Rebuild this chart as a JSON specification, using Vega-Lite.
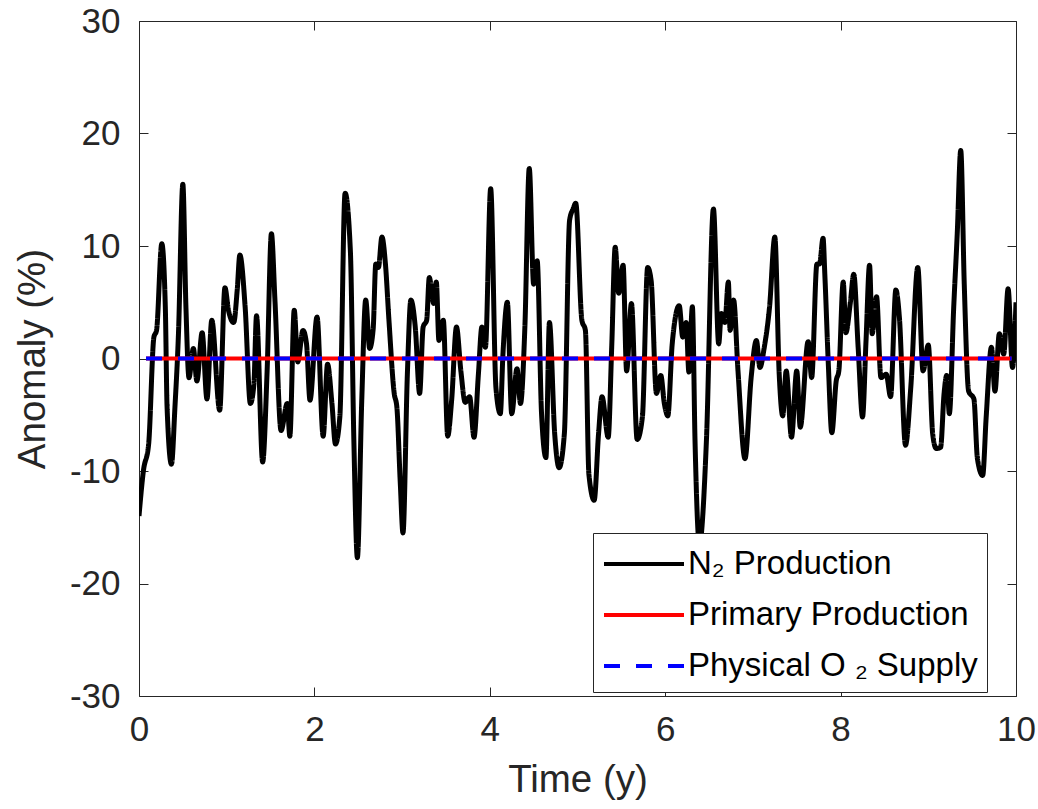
{
  "$schema": "https://vega.github.io/schema/vega-lite/v6.json",
  "width": 877,
  "height": 675,
  "autosize": {"type": "none"},
  "padding": {"left": 139, "top": 21, "right": 22, "bottom": 113},
  "background": "white",
  "config": {
    "font": "Liberation Sans",
    "view": {"stroke": "#262626", "strokeWidth": 1},
    "axis": {
      "domain": false, "grid": false,
      "tickColor": "#262626", "tickSize": -9, "tickWidth": 1,
      "labelColor": "#262626", "labelFont": "Liberation Sans", "labelFontSize": 35,
      "labelPadding": 28,
      "titleFont": "Liberation Sans", "titleFontSize": 38.5, "titleFontWeight": "normal", "titleColor": "#262626"
    },
    "legend": {
      "orient": "none", "legendX": 454, "legendY": 512, "title": null,
      "symbolType": "M-1,0H3", "symbolSize": 1600, "symbolStrokeWidth": 4,
      "labelFontSize": 33, "labelFont": "Liberation Sans", "labelColor": "#000000", "labelOffset": 42,
      "rowPadding": 12, "padding": 9, "strokeColor": "#262626", "fillColor": "white", "labelLimit": 500
    }
  },
  "datasets": {
    "n2": [
      {"t":0.0,"v":-14.0,"s":"N₂ Production"},{"t":0.05,"v":-10.0,"s":"N₂ Production"},{"t":0.11,"v":-7.6,"s":"N₂ Production"},{"t":0.17,"v":1.9,"s":"N₂ Production"},{"t":0.2,"v":2.5,"s":"N₂ Production"},{"t":0.26,"v":10.2,"s":"N₂ Production"},{"t":0.3,"v":4.6,"s":"N₂ Production"},{"t":0.32,"v":-4.3,"s":"N₂ Production"},{"t":0.37,"v":-9.4,"s":"N₂ Production"},{"t":0.41,"v":-4.3,"s":"N₂ Production"},{"t":0.45,"v":2.2,"s":"N₂ Production"},{"t":0.5,"v":15.5,"s":"N₂ Production"},{"t":0.535,"v":4.6,"s":"N₂ Production"},{"t":0.57,"v":-1.7,"s":"N₂ Production"},{"t":0.62,"v":0.9,"s":"N₂ Production"},{"t":0.66,"v":-2.0,"s":"N₂ Production"},{"t":0.72,"v":2.3,"s":"N₂ Production"},{"t":0.775,"v":-3.6,"s":"N₂ Production"},{"t":0.83,"v":3.4,"s":"N₂ Production"},{"t":0.92,"v":-4.6,"s":"N₂ Production"},{"t":0.98,"v":6.3,"s":"N₂ Production"},{"t":1.02,"v":4.3,"s":"N₂ Production"},{"t":1.08,"v":3.2,"s":"N₂ Production"},{"t":1.12,"v":6.1,"s":"N₂ Production"},{"t":1.15,"v":9.2,"s":"N₂ Production"},{"t":1.21,"v":4.6,"s":"N₂ Production"},{"t":1.27,"v":-4.0,"s":"N₂ Production"},{"t":1.31,"v":-2.3,"s":"N₂ Production"},{"t":1.34,"v":3.8,"s":"N₂ Production"},{"t":1.41,"v":-9.2,"s":"N₂ Production"},{"t":1.46,"v":-1.3,"s":"N₂ Production"},{"t":1.51,"v":11.1,"s":"N₂ Production"},{"t":1.55,"v":5.2,"s":"N₂ Production"},{"t":1.62,"v":-6.4,"s":"N₂ Production"},{"t":1.69,"v":-4.0,"s":"N₂ Production"},{"t":1.72,"v":-6.9,"s":"N₂ Production"},{"t":1.77,"v":4.3,"s":"N₂ Production"},{"t":1.81,"v":-0.3,"s":"N₂ Production"},{"t":1.87,"v":2.5,"s":"N₂ Production"},{"t":1.91,"v":1.3,"s":"N₂ Production"},{"t":1.95,"v":-3.7,"s":"N₂ Production"},
      {"t":2.03,"v":3.7,"s":"N₂ Production"},{"t":2.1,"v":-6.9,"s":"N₂ Production"},{"t":2.15,"v":-0.5,"s":"N₂ Production"},{"t":2.2,"v":-4.0,"s":"N₂ Production"},{"t":2.24,"v":-7.6,"s":"N₂ Production"},{"t":2.29,"v":-5.2,"s":"N₂ Production"},{"t":2.35,"v":14.7,"s":"N₂ Production"},{"t":2.41,"v":9.6,"s":"N₂ Production"},{"t":2.45,"v":-7.3,"s":"N₂ Production"},{"t":2.49,"v":-17.7,"s":"N₂ Production"},{"t":2.54,"v":-3.7,"s":"N₂ Production"},{"t":2.585,"v":5.2,"s":"N₂ Production"},{"t":2.63,"v":0.9,"s":"N₂ Production"},{"t":2.67,"v":2.6,"s":"N₂ Production"},{"t":2.7,"v":8.4,"s":"N₂ Production"},{"t":2.73,"v":8.1,"s":"N₂ Production"},{"t":2.77,"v":10.8,"s":"N₂ Production"},{"t":2.81,"v":8.4,"s":"N₂ Production"},{"t":2.85,"v":3.4,"s":"N₂ Production"},{"t":2.91,"v":-3.1,"s":"N₂ Production"},{"t":2.94,"v":-4.3,"s":"N₂ Production"},{"t":2.98,"v":-11.2,"s":"N₂ Production"},{"t":3.01,"v":-15.5,"s":"N₂ Production"},{"t":3.06,"v":-1.4,"s":"N₂ Production"},{"t":3.1,"v":5.2,"s":"N₂ Production"},{"t":3.15,"v":2.8,"s":"N₂ Production"},{"t":3.2,"v":-3.1,"s":"N₂ Production"},{"t":3.24,"v":2.8,"s":"N₂ Production"},{"t":3.28,"v":3.4,"s":"N₂ Production"},{"t":3.31,"v":7.2,"s":"N₂ Production"},{"t":3.36,"v":4.9,"s":"N₂ Production"},{"t":3.39,"v":6.8,"s":"N₂ Production"},{"t":3.42,"v":1.6,"s":"N₂ Production"},{"t":3.47,"v":3.4,"s":"N₂ Production"},{"t":3.52,"v":-6.9,"s":"N₂ Production"},{"t":3.565,"v":-3.7,"s":"N₂ Production"},{"t":3.62,"v":2.8,"s":"N₂ Production"},{"t":3.67,"v":-1.1,"s":"N₂ Production"},{"t":3.72,"v":-3.9,"s":"N₂ Production"},{"t":3.77,"v":-3.4,"s":"N₂ Production"},{"t":3.82,"v":-7.0,"s":"N₂ Production"},
      {"t":3.87,"v":-1.4,"s":"N₂ Production"},{"t":3.91,"v":2.8,"s":"N₂ Production"},{"t":3.95,"v":1.0,"s":"N₂ Production"},{"t":4.01,"v":15.1,"s":"N₂ Production"},{"t":4.07,"v":-2.6,"s":"N₂ Production"},{"t":4.12,"v":-4.9,"s":"N₂ Production"},{"t":4.15,"v":0.4,"s":"N₂ Production"},{"t":4.2,"v":5.0,"s":"N₂ Production"},{"t":4.25,"v":-4.9,"s":"N₂ Production"},{"t":4.31,"v":-0.9,"s":"N₂ Production"},{"t":4.35,"v":-4.0,"s":"N₂ Production"},{"t":4.4,"v":2.8,"s":"N₂ Production"},{"t":4.45,"v":16.9,"s":"N₂ Production"},{"t":4.5,"v":6.6,"s":"N₂ Production"},{"t":4.54,"v":8.7,"s":"N₂ Production"},{"t":4.59,"v":-4.9,"s":"N₂ Production"},{"t":4.64,"v":-8.8,"s":"N₂ Production"},{"t":4.68,"v":3.2,"s":"N₂ Production"},{"t":4.74,"v":-6.7,"s":"N₂ Production"},{"t":4.79,"v":-9.7,"s":"N₂ Production"},{"t":4.85,"v":-6.7,"s":"N₂ Production"},{"t":4.91,"v":12.3,"s":"N₂ Production"},{"t":4.95,"v":13.3,"s":"N₂ Production"},{"t":4.98,"v":13.8,"s":"N₂ Production"},{"t":5.05,"v":3.4,"s":"N₂ Production"},{"t":5.09,"v":2.5,"s":"N₂ Production"},{"t":5.13,"v":-10.3,"s":"N₂ Production"},{"t":5.19,"v":-12.6,"s":"N₂ Production"},{"t":5.24,"v":-6.7,"s":"N₂ Production"},{"t":5.28,"v":-3.4,"s":"N₂ Production"},{"t":5.35,"v":-7.0,"s":"N₂ Production"},{"t":5.39,"v":1.0,"s":"N₂ Production"},{"t":5.43,"v":9.9,"s":"N₂ Production"},{"t":5.47,"v":5.8,"s":"N₂ Production"},{"t":5.52,"v":8.3,"s":"N₂ Production"},{"t":5.56,"v":-1.1,"s":"N₂ Production"},{"t":5.615,"v":4.9,"s":"N₂ Production"},{"t":5.68,"v":-7.2,"s":"N₂ Production"},{"t":5.74,"v":-5.2,"s":"N₂ Production"},{"t":5.8,"v":8.1,"s":"N₂ Production"},
      {"t":5.84,"v":6.9,"s":"N₂ Production"},{"t":5.9,"v":-3.1,"s":"N₂ Production"},{"t":5.95,"v":-1.5,"s":"N₂ Production"},{"t":5.99,"v":-4.0,"s":"N₂ Production"},{"t":6.03,"v":-5.1,"s":"N₂ Production"},{"t":6.08,"v":1.3,"s":"N₂ Production"},{"t":6.16,"v":4.7,"s":"N₂ Production"},{"t":6.2,"v":1.9,"s":"N₂ Production"},{"t":6.24,"v":3.2,"s":"N₂ Production"},{"t":6.27,"v":-1.2,"s":"N₂ Production"},{"t":6.31,"v":4.6,"s":"N₂ Production"},{"t":6.34,"v":-7.3,"s":"N₂ Production"},{"t":6.39,"v":-16.5,"s":"N₂ Production"},{"t":6.47,"v":-7.3,"s":"N₂ Production"},{"t":6.55,"v":13.3,"s":"N₂ Production"},{"t":6.61,"v":1.3,"s":"N₂ Production"},{"t":6.64,"v":4.0,"s":"N₂ Production"},{"t":6.68,"v":3.2,"s":"N₂ Production"},{"t":6.72,"v":6.8,"s":"N₂ Production"},{"t":6.74,"v":2.5,"s":"N₂ Production"},{"t":6.78,"v":5.2,"s":"N₂ Production"},{"t":6.83,"v":-1.1,"s":"N₂ Production"},{"t":6.91,"v":-8.9,"s":"N₂ Production"},{"t":6.98,"v":-1.7,"s":"N₂ Production"},{"t":7.04,"v":1.6,"s":"N₂ Production"},{"t":7.08,"v":-0.8,"s":"N₂ Production"},{"t":7.13,"v":1.0,"s":"N₂ Production"},{"t":7.19,"v":4.6,"s":"N₂ Production"},{"t":7.25,"v":10.8,"s":"N₂ Production"},{"t":7.3,"v":-1.4,"s":"N₂ Production"},{"t":7.34,"v":-5.1,"s":"N₂ Production"},{"t":7.38,"v":-1.1,"s":"N₂ Production"},{"t":7.44,"v":-7.0,"s":"N₂ Production"},{"t":7.5,"v":-1.1,"s":"N₂ Production"},{"t":7.54,"v":-6.1,"s":"N₂ Production"},{"t":7.63,"v":1.5,"s":"N₂ Production"},{"t":7.67,"v":-1.7,"s":"N₂ Production"},{"t":7.73,"v":8.4,"s":"N₂ Production"},{"t":7.76,"v":8.4,"s":"N₂ Production"},{"t":7.8,"v":10.7,"s":"N₂ Production"},{"t":7.82,"v":7.5,"s":"N₂ Production"},{"t":7.86,"v":-0.5,"s":"N₂ Production"},{"t":7.9,"v":-6.6,"s":"N₂ Production"},{"t":7.95,"v":-2.0,"s":"N₂ Production"},{"t":7.98,"v":-1.1,"s":"N₂ Production"},
      {"t":8.03,"v":6.8,"s":"N₂ Production"},{"t":8.06,"v":2.3,"s":"N₂ Production"},{"t":8.11,"v":4.9,"s":"N₂ Production"},{"t":8.15,"v":7.5,"s":"N₂ Production"},{"t":8.2,"v":1.0,"s":"N₂ Production"},{"t":8.25,"v":-5.2,"s":"N₂ Production"},{"t":8.29,"v":1.6,"s":"N₂ Production"},{"t":8.33,"v":8.3,"s":"N₂ Production"},{"t":8.36,"v":2.2,"s":"N₂ Production"},{"t":8.41,"v":5.5,"s":"N₂ Production"},{"t":8.46,"v":-1.7,"s":"N₂ Production"},{"t":8.52,"v":-1.4,"s":"N₂ Production"},{"t":8.57,"v":-3.4,"s":"N₂ Production"},{"t":8.63,"v":6.1,"s":"N₂ Production"},{"t":8.67,"v":3.7,"s":"N₂ Production"},{"t":8.74,"v":-7.7,"s":"N₂ Production"},{"t":8.8,"v":-2.6,"s":"N₂ Production"},{"t":8.88,"v":8.1,"s":"N₂ Production"},{"t":8.94,"v":-1.1,"s":"N₂ Production"},{"t":9.0,"v":1.2,"s":"N₂ Production"},{"t":9.05,"v":-6.7,"s":"N₂ Production"},{"t":9.09,"v":-8.0,"s":"N₂ Production"},{"t":9.14,"v":-7.9,"s":"N₂ Production"},{"t":9.18,"v":-3.1,"s":"N₂ Production"},{"t":9.21,"v":-1.5,"s":"N₂ Production"},{"t":9.24,"v":-4.9,"s":"N₂ Production"},{"t":9.29,"v":4.6,"s":"N₂ Production"},{"t":9.33,"v":11.1,"s":"N₂ Production"},{"t":9.37,"v":18.5,"s":"N₂ Production"},{"t":9.41,"v":6.6,"s":"N₂ Production"},{"t":9.46,"v":-2.9,"s":"N₂ Production"},{"t":9.52,"v":-3.6,"s":"N₂ Production"},{"t":9.56,"v":-8.9,"s":"N₂ Production"},{"t":9.62,"v":-10.4,"s":"N₂ Production"},{"t":9.66,"v":-5.2,"s":"N₂ Production"},{"t":9.72,"v":1.0,"s":"N₂ Production"},{"t":9.76,"v":-2.9,"s":"N₂ Production"},{"t":9.81,"v":2.2,"s":"N₂ Production"},{"t":9.86,"v":0.4,"s":"N₂ Production"},{"t":9.91,"v":6.2,"s":"N₂ Production"},{"t":9.96,"v":-0.8,"s":"N₂ Production"},{"t":10.0,"v":5.0,"s":"N₂ Production"}
    ],
    "pp": [
      {"t":0.08,"v":0,"s":"Primary Production"},{"t":9.95,"v":0,"s":"Primary Production"}
    ],
    "o2": [
      {"t":0.08,"v":0,"s":"Physical O ₂ Supply"},{"t":9.95,"v":0,"s":"Physical O ₂ Supply"}
    ]
  },
  "layer": [
    {
      "data": {"name": "n2"},
      "mark": {"type": "line", "strokeWidth": 5, "interpolate": "monotone", "strokeJoin": "round", "clip": true},
      "encoding": {
        "x": {"field": "t", "type": "quantitative", "scale": {"domain": [0, 10], "nice": false, "zero": false},
              "axis": {"values": [0, 2, 4, 6, 8, 10], "labelFlush": false, "labelPadding": 25, "title": "Time (y)", "titlePadding": 14}},
        "y": {"field": "v", "type": "quantitative", "scale": {"domain": [-30, 30], "nice": false},
              "axis": {"values": [-30, -20, -10, 0, 10, 20, 30], "title": "Anomaly (%)", "titlePadding": 17,
                       "labelExpr": "datum.value < 0 ? '-' + abs(datum.value) + '\u00a0' : '' + datum.value"}},
        "color": {"field": "s", "type": "nominal",
                  "scale": {"domain": ["N₂ Production", "Primary Production", "Physical O ₂ Supply"], "range": ["#000000", "#ff0000", "#0000ff"]}},
        "strokeDash": {"field": "s", "type": "nominal",
                  "scale": {"domain": ["N₂ Production", "Primary Production", "Physical O ₂ Supply"], "range": [[1, 0], [1, 0], [16, 16]]}}
      }
    },
    {
      "data": {"name": "pp"},
      "mark": {"type": "line", "strokeWidth": 4},
      "encoding": {
        "x": {"field": "t", "type": "quantitative", "axis": {"orient": "top", "values": [0, 2, 4, 6, 8, 10], "labels": false, "title": null}},
        "y": {"field": "v", "type": "quantitative", "axis": {"orient": "right", "values": [-30, -20, -10, 0, 10, 20, 30], "labels": false, "title": null}},
        "color": {"field": "s", "type": "nominal"},
        "strokeDash": {"field": "s", "type": "nominal"}
      }
    },
    {
      "data": {"name": "o2"},
      "mark": {"type": "line", "strokeWidth": 4},
      "encoding": {
        "x": {"field": "t", "type": "quantitative", "axis": null},
        "y": {"field": "v", "type": "quantitative", "axis": null},
        "color": {"field": "s", "type": "nominal"},
        "strokeDash": {"field": "s", "type": "nominal"}
      }
    }
  ],
  "resolve": {"axis": {"x": "independent", "y": "independent"}}
}
